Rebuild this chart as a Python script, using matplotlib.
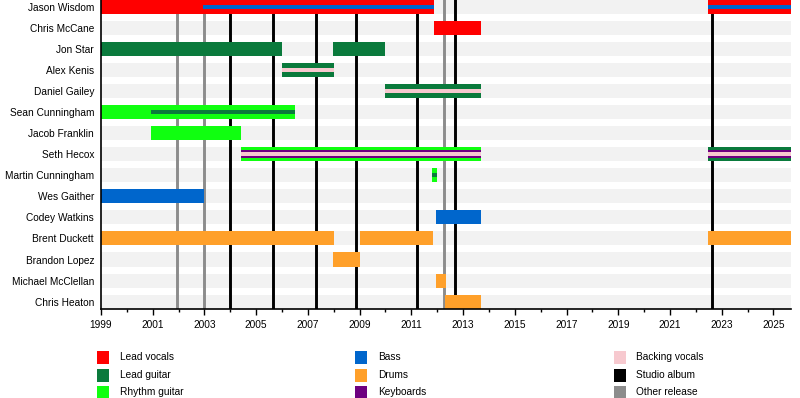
import matplotlib.pyplot as plt
from matplotlib.patches import Rectangle

plt.rcParams['font.family'] = ['Liberation Sans', 'DejaVu Sans']

members = ['Jason Wisdom', 'Chris McCane', 'Jon Star', 'Alex Kenis', 'Daniel Gailey',
           'Sean Cunningham', 'Jacob Franklin', 'Seth Hecox', 'Martin Cunningham',
           'Wes Gaither', 'Codey Watkins', 'Brent Duckett', 'Brandon Lopez',
           'Michael McClellan', 'Chris Heaton']

START = 1999.0
END = 2025.68

roles = ['Lead vocals', 'Lead guitar', 'Rhythm guitar', 'Bass', 'Drums', 'Keyboards',
         'Backing vocals', 'Studio album', 'Other release']
role_colors = ['#ff0000', '#0a7a3c', '#10ff10', '#0066cc', '#ffa02a', '#6e0080',
               '#f7c9cf', '#000000', '#8c8c8c']

# (member, role, start, end) - first role of a stint is the main bar,
# later overlapping roles are drawn as stripes inside it
periods = [
    ('Jason Wisdom', 'Lead vocals', START, 2011.87),
    ('Jason Wisdom', 'Bass', 2002.95, 2011.87),
    ('Jason Wisdom', 'Lead vocals', 2022.47, END),
    ('Jason Wisdom', 'Bass', 2022.47, END),
    ('Chris McCane', 'Lead vocals', 2011.87, 2013.69),
    ('Jon Star', 'Lead guitar', START, 2006.0),
    ('Jon Star', 'Lead guitar', 2007.97, 2010.0),
    ('Alex Kenis', 'Lead guitar', 2006.0, 2008.0),
    ('Alex Kenis', 'Backing vocals', 2006.0, 2008.0),
    ('Daniel Gailey', 'Lead guitar', 2010.0, 2013.69),
    ('Daniel Gailey', 'Backing vocals', 2010.0, 2013.69),
    ('Sean Cunningham', 'Rhythm guitar', START, 2006.5),
    ('Sean Cunningham', 'Lead guitar', 2000.95, 2006.5),
    ('Jacob Franklin', 'Rhythm guitar', 2000.95, 2004.42),
    ('Seth Hecox', 'Rhythm guitar', 2004.42, 2013.69),
    ('Seth Hecox', 'Keyboards', 2004.42, 2013.69),
    ('Seth Hecox', 'Backing vocals', 2004.42, 2013.69),
    ('Seth Hecox', 'Lead guitar', 2022.47, END),
    ('Seth Hecox', 'Keyboards', 2022.47, END),
    ('Seth Hecox', 'Backing vocals', 2022.47, END),
    ('Martin Cunningham', 'Rhythm guitar', 2011.81, 2011.98),
    ('Martin Cunningham', 'Lead guitar', 2011.81, 2011.98),
    ('Wes Gaither', 'Bass', START, 2002.98),
    ('Codey Watkins', 'Bass', 2011.95, 2013.69),
    ('Brent Duckett', 'Drums', START, 2008.0),
    ('Brent Duckett', 'Drums', 2009.0, 2011.85),
    ('Brent Duckett', 'Drums', 2022.47, END),
    ('Brandon Lopez', 'Drums', 2007.97, 2009.0),
    ('Michael McClellan', 'Drums', 2011.95, 2012.33),
    ('Chris Heaton', 'Drums', 2012.3, 2013.69),
]

studio_albums = [2003.99, 2005.65, 2007.31, 2008.86, 2011.22, 2012.69, 2022.64]
other_releases = [2001.94, 2002.98, 2012.26]

color_of = dict(zip(roles, role_colors))
row_of = {m: i for i, m in enumerate(members)}

fig = plt.figure(figsize=(8, 3.98), dpi=100)
ax = fig.add_axes([101 / 800, 1 - 309 / 398, 690 / 800, 309 / 398])

BAR_H = 14 / 21
ax.barh(range(len(members)), END - START, left=START, height=BAR_H,
        color='#f2f2f2', zorder=0)

for x in other_releases:
    ax.axvline(x, color=color_of['Other release'], lw=2.1, zorder=1)
for x in studio_albums:
    ax.axvline(x, color=color_of['Studio album'], lw=2.1, zorder=1)

# stripe heights: main bar, then narrower bands for extra roles
for m, role, s, e in periods:
    same = [p for p in periods if p[0] == m and p[2] < e and p[3] > s]
    depth = same.index((m, role, s, e))
    n = len(same)
    if depth == 0:
        h = BAR_H
    elif depth == n - 1:
        h = 4 / 21
    else:
        h = 8 / 21
    ax.barh(row_of[m], e - s, left=s, height=h, color=color_of[role],
            zorder=2 + depth, linewidth=0)

ax.set_xlim(START, END)
ax.set_ylim(len(members) - 1 + 7.4 / 21, -7 / 21)
ax.set_yticks(range(len(members)))
ax.set_yticklabels(members, fontsize=7.3)
ax.tick_params(axis='y', length=0, pad=5)
ax.set_xticks(range(1999, 2026, 2))
ax.set_xticks(range(1999, 2026), minor=True)
ax.tick_params(axis='x', which='major', length=4, width=1, labelsize=7.3, pad=4)
ax.tick_params(axis='x', which='minor', length=2.5, width=1)
for side in ['top', 'right']:
    ax.spines[side].set_visible(False)
for side in ['left', 'bottom']:
    ax.spines[side].set_linewidth(1.2)

# legend, three columns
leg_cols = [(97, 120), (355, 378), (614, 636)]
leg_rows = [357, 375, 392]
for k, (name, col) in enumerate(zip(roles, role_colors)):
    sx, tx = leg_cols[k // 3]
    cy = leg_rows[k % 3]
    fig.add_artist(Rectangle((sx / 800, 1 - (cy + 6.5) / 398), 12 / 800, 13 / 398,
                             transform=fig.transFigure, color=col, lw=0))
    fig.text(tx / 800, 1 - cy / 398, name, fontsize=7.3, va='center', ha='left')

fig.savefig('out.png', dpi=100)
